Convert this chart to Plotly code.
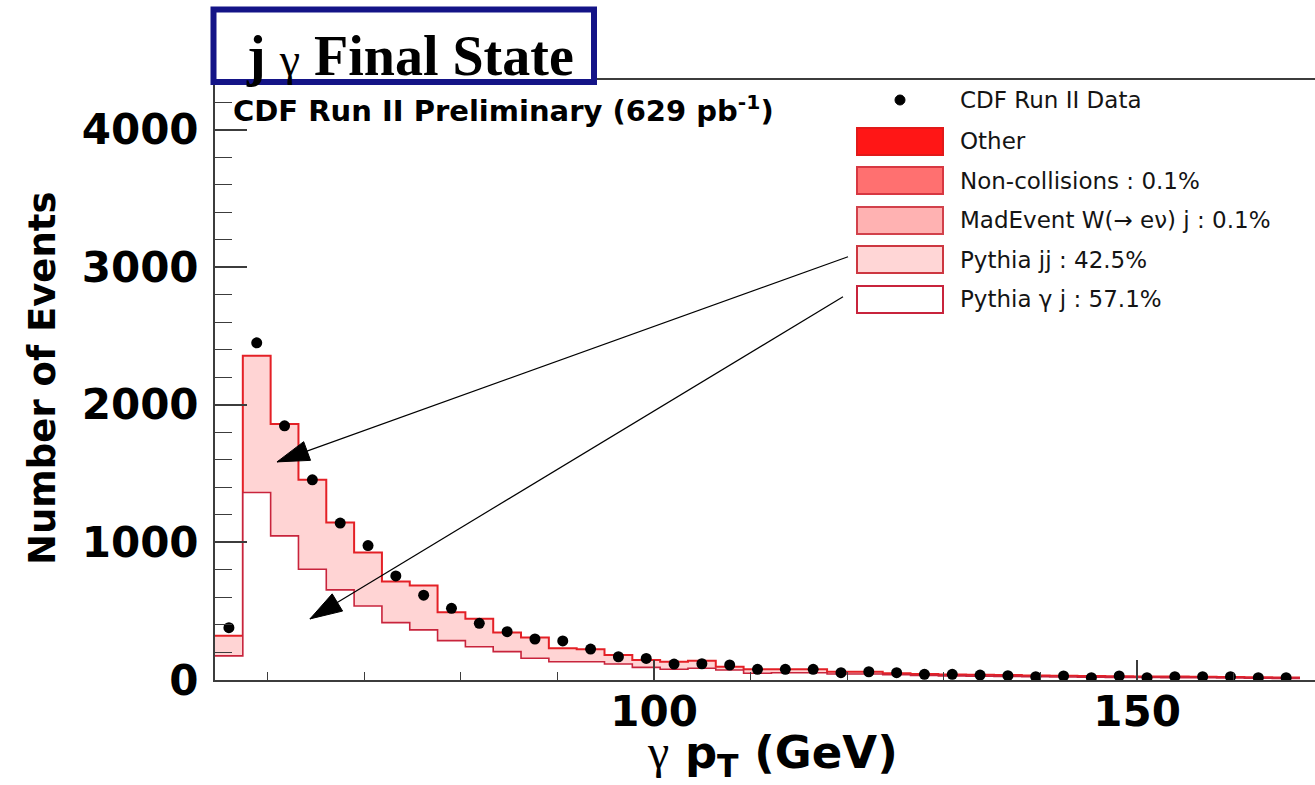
import numpy as np
import plotly.graph_objects as go

# ---------------- data ----------------
bin_low = 54.55      # GeV, lower edge of first bin
bin_width = 2.88     # GeV
n_bins = 39

data_counts = [380, 2450, 1847, 1455, 1140, 977, 756, 616, 521, 412,
               351, 298, 284, 225, 169, 157, 116, 118, 109, 78,
               78, 78, 53, 60, 53, 41, 41, 36, 31, 24,
               29, 17, 29, 17, 24, 24, 24, 17, 17]

pythia_gj = [175, 1362, 1047, 805, 655, 538, 417, 364, 286, 242,
             206, 158, 133, 133, 116, 92, 78, 85, 73, 49,
             53, 53, 44, 44, 38, 33, 30, 28, 26, 24,
             22, 20, 19, 18, 17, 16, 15, 13, 12]

pythia_jj = [147, 994, 813, 650, 489, 388, 298, 322, 206, 203,
             139, 150, 97, 90, 66, 53, 55, 55, 24, 29,
             25, 25, 16, 16, 11, 11, 10, 10, 10, 9,
             9, 9, 9, 8, 8, 8, 7, 7, 6]

legend_labels = ["CDF Run II Data", "Other", "Non-collisions : 0.1%",
                 "MadEvent W(\u2192 e\u03bd) j : 0.1%", "Pythia jj : 42.5%",
                 "Pythia \u03b3 j : 57.1%"]

y_ticks = [0, 1000, 2000, 3000, 4000]
x_ticks = [100, 150]

x_range = [54.55, 168.42]
y_range = [0, 4360]

# ---------------- derived ----------------
edges = bin_low + bin_width * np.arange(n_bins + 1)
centers = 0.5 * (edges[:-1] + edges[1:])
gj = np.array(pythia_gj, dtype=float)
total = gj + np.array(pythia_jj, dtype=float)

step_x = list(edges[:-1]) + [edges[-1]]
def step_y(v):
    return list(v) + [v[-1]]

RED = "rgb(228,32,38)"
CRIMSON = "rgb(200,36,60)"
PINK = "rgb(255,212,212)"
AXC = "rgb(60,60,60)"

fig = go.Figure()
fig.add_trace(go.Scatter(x=step_x, y=step_y(total), mode="lines",
                         line=dict(shape="hv", color=RED, width=2),
                         fill="tozeroy", fillcolor=PINK, hoverinfo="skip"))
fig.add_trace(go.Scatter(x=step_x, y=step_y(gj), mode="lines",
                         line=dict(shape="hv", color=CRIMSON, width=1.6),
                         fill="tozeroy", fillcolor="white", hoverinfo="skip"))
fig.add_trace(go.Scatter(x=centers, y=data_counts, mode="markers",
                         marker=dict(color="black", size=11, symbol="circle"),
                         hoverinfo="skip"))

# ---------------- pixel helpers for paper-positioned decorations ----------------
L, T, W, H = 215, 80, 1100, 600
def px(xp):
    return (xp - L) / W
def py(yp):
    return (T + H - yp) / H

shapes = []
annots = []

# arrows (in data coordinates)
arrows = [
    dict(tail=(120.08, 3076), tip=(60.97, 1585), b1=(64.44, 1596), b2=(63.73, 1732)),
    dict(tail=(119.56, 2785), tip=(64.38, 444), b1=(67.76, 501), b2=(66.68, 626)),
]
for a in arrows:
    shapes.append(dict(type="line", xref="x", yref="y",
                       x0=a["tail"][0], y0=a["tail"][1], x1=a["tip"][0], y1=a["tip"][1],
                       line=dict(color="black", width=1.2)))
    shapes.append(dict(type="path", xref="x", yref="y",
                       path=f"M {a['tip'][0]},{a['tip'][1]} L {a['b1'][0]},{a['b1'][1]} L {a['b2'][0]},{a['b2'][1]} Z",
                       fillcolor="black", line=dict(color="black", width=1)))

# title box
shapes.append(dict(type="rect", xref="paper", yref="paper",
                   x0=px(213.5), x1=px(594), y0=py(82), y1=py(9.5),
                   fillcolor="white", line=dict(color="rgb(20,20,135)", width=6)))
annots.append(dict(xref="paper", yref="paper", x=px(410), y=py(56),
                   xanchor="center", yanchor="middle", showarrow=False,
                   text="j <span style='font-weight:normal;font-size:46px'>\u03b3</span> Final State",
                   font=dict(family="Liberation Serif", size=56, color="black", weight="bold")))

# CDF label
annots.append(dict(xref="paper", yref="paper", x=px(231), y=py(109),
                   xanchor="left", yanchor="middle", showarrow=False,
                   text="CDF Run II Preliminary (629 pb<sup>-1</sup>)",
                   font=dict(family="DejaVu Sans", size=29, color="black", weight="bold")))

# axis titles
annots.append(dict(xref="paper", yref="paper", x=px(42), y=py(378),
                   xanchor="center", yanchor="middle", showarrow=False, textangle=-90,
                   text="Number of Events",
                   font=dict(family="DejaVu Sans", size=37, color="black", weight="bold")))
annots.append(dict(xref="paper", yref="paper", x=px(772), y=py(754),
                   xanchor="center", yanchor="middle", showarrow=False,
                   text="<span style='font-family:Liberation Serif;font-weight:normal;font-size:48px'>\u03b3</span> p<sub>T</sub> (GeV)",
                   font=dict(family="DejaVu Sans", size=45, color="black", weight="bold")))

# legend
shapes.append(dict(type="circle", xref="paper", yref="paper",
                   x0=px(895), x1=px(905), y0=py(105), y1=py(95),
                   fillcolor="black", line=dict(color="black", width=1)))
box_rows = [(128, 155), (167, 194), (207, 234), (246, 273), (286, 313)]
box_fill = ["rgb(255,22,22)", "rgb(255,112,112)", "rgb(255,178,178)", "rgb(255,214,214)", "white"]
box_line = ["rgb(225,25,25)", "rgb(215,55,65)", "rgb(210,65,75)", "rgb(205,55,65)", "rgb(200,36,60)"]
for (y0, y1), fc, lc in zip(box_rows, box_fill, box_line):
    shapes.append(dict(type="rect", xref="paper", yref="paper",
                       x0=px(857), x1=px(943), y0=py(y1), y1=py(y0),
                       fillcolor=fc, line=dict(color=lc, width=2)))
text_y = [100, 141, 181, 220, 260, 299]
for lab, ty in zip(legend_labels, text_y):
    annots.append(dict(xref="paper", yref="paper", x=px(958), y=py(ty),
                       xanchor="left", yanchor="middle", showarrow=False, text=lab,
                       font=dict(family="DejaVu Sans", size=23, color="rgb(20,20,20)")))

fig.update_layout(
    width=1315, height=785,
    margin=dict(l=L, r=0, t=T, b=785 - T - H, pad=0),
    paper_bgcolor="white", plot_bgcolor="white",
    showlegend=False, hovermode=False,
    shapes=shapes, annotations=annots,
)
fig.update_xaxes(range=x_range, showgrid=False, zeroline=False,
                 showline=True, linecolor=AXC, linewidth=2, mirror=True,
                 ticks="inside", ticklen=20, tickwidth=1.5, tickcolor=AXC,
                 tickvals=x_ticks, ticktext=[str(v) for v in x_ticks],
                 minor=dict(dtick=10, tick0=0, ticks="inside", ticklen=8, tickwidth=1.2, tickcolor=AXC),
                 tickfont=dict(family="DejaVu Sans", size=42, color="black", weight="bold"),
                 ticklabelstandoff=-6)
fig.update_yaxes(range=y_range, showgrid=False, zeroline=False,
                 showline=True, linecolor=AXC, linewidth=2,
                 ticks="inside", ticklen=32, tickwidth=1.5, tickcolor=AXC,
                 tickvals=y_ticks, ticktext=[str(v) for v in y_ticks],
                 minor=dict(dtick=200, tick0=0, ticks="inside", ticklen=17, tickwidth=1.2, tickcolor=AXC),
                 tickfont=dict(family="DejaVu Sans", size=42, color="black", weight="bold"),
                 ticklabelstandoff=6)

fig.write_html("out.html")
